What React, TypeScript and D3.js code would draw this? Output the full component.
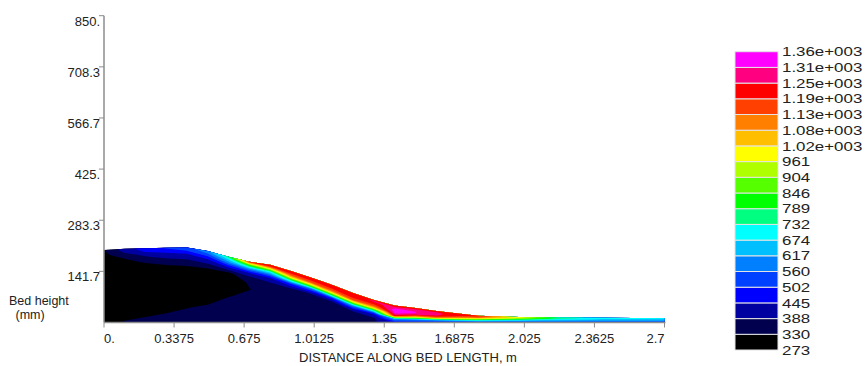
import { useMemo } from 'react';
import * as d3 from 'd3';

const WIDTH = 868;
const HEIGHT = 366;
const PLOT = { left: 104, right: 664.5, top: 15.7, bottom: 322.5 };
const FONT = 'Liberation Sans, Arial, sans-serif';

// stations along the bed (m) and bed surface height at each (mm)
const stationX = [0, 0.1, 0.2, 0.3, 0.4, 0.5, 0.6, 0.7, 0.8, 0.9, 1.0, 1.1, 1.2, 1.3, 1.4, 1.5, 1.6, 1.8, 2.0, 2.2, 2.4, 2.7];
const surfaceHeight = [201, 204, 206, 207, 208, 198, 182, 168, 160, 143, 124, 104, 82, 62, 47, 40, 32, 19, 15, 14, 13, 12];

// fraction of local bed height, bottom (0) -> surface (1)
const etaLevels = [0, 0.2, 0.4, 0.55, 0.65, 0.75, 0.82, 0.88, 0.92, 0.95, 0.975, 1.0];

// temperature (K) read per station, bottom -> surface
const temperature = [
  [300, 292, 285, 285, 288, 292, 298, 305, 312, 318, 322, 326],
  [335, 295, 285, 285, 290, 300, 315, 335, 365, 392, 408, 420],
  [345, 305, 285, 285, 290, 310, 338, 380, 410, 448, 462, 475],
  [350, 318, 290, 285, 292, 320, 355, 405, 430, 460, 490, 510],
  [360, 328, 295, 288, 298, 328, 370, 415, 450, 495, 520, 540],
  [365, 340, 300, 290, 300, 325, 385, 440, 490, 540, 575, 600],
  [380, 360, 328, 300, 295, 315, 415, 520, 600, 650, 705, 800],
  [370, 360, 345, 328, 336, 380, 448, 590, 740, 860, 1020, 1200],
  [370, 360, 350, 350, 365, 418, 548, 710, 920, 1100, 1192, 1230],
  [375, 365, 360, 365, 380, 505, 760, 1040, 1140, 1190, 1220, 1240],
  [380, 370, 365, 372, 392, 585, 904, 1120, 1175, 1205, 1220, 1230],
  [385, 378, 375, 385, 510, 870, 1095, 1180, 1205, 1220, 1230, 1240],
  [380, 375, 390, 575, 860, 1127, 1185, 1215, 1228, 1238, 1243, 1245],
  [375, 380, 470, 780, 1030, 1140, 1190, 1230, 1250, 1255, 1250, 1240],
  [450, 610, 1220, 1320, 1338, 1335, 1315, 1280, 1250, 1240, 1235, 1230],
  [460, 600, 1050, 1255, 1312, 1310, 1290, 1265, 1250, 1243, 1240, 1235],
  [470, 620, 1080, 1230, 1265, 1270, 1262, 1250, 1240, 1235, 1230, 1225],
  [480, 620, 820, 980, 1080, 1140, 1170, 1185, 1192, 1195, 1197, 1198],
  [500, 580, 680, 780, 860, 920, 950, 970, 980, 990, 995, 1000],
  [510, 580, 640, 680, 710, 735, 750, 760, 765, 768, 770, 772],
  [520, 560, 610, 640, 660, 675, 685, 692, 696, 698, 700, 702],
  [520, 550, 600, 630, 650, 665, 675, 682, 686, 688, 690, 692],
];

// contour levels and legend
const levels = [273, 330, 388, 445, 502, 560, 617, 674, 732, 789, 846, 904, 961, 1020, 1080, 1130, 1190, 1250, 1310, 1360];
const levelLabels = ['273', '330', '388', '445', '502', '560', '617', '674', '732', '789', '846', '904', '961',
  '1.02e+003', '1.08e+003', '1.13e+003', '1.19e+003', '1.25e+003', '1.31e+003', '1.36e+003'];
const bandColors = ['#000000', '#00004f', '#0000a0', '#0000ff', '#0040ff', '#0080ff', '#00bfff', '#00ffff', '#00ff80',
  '#00ff00', '#55ff00', '#b0ff00', '#ffff00', '#ffbf00', '#ff8000', '#ff4000', '#ff0000', '#ff0080', '#ff00ff'];

const xTicks = [0, 0.3375, 0.675, 1.0125, 1.35, 1.6875, 2.025, 2.3625, 2.7];
const xTickLabels = ['0.', '0.3375', '0.675', '1.0125', '1.35', '1.6875', '2.025', '2.3625', '2.7'];
const yTicks = [141.7, 283.3, 425, 566.7, 708.3, 850];
const yTickLabels = ['141.7', '283.3', '425.', '566.7', '708.3', '850.'];

const LEGEND = { x: 735, y: 51.7, w: 43, step: 15.7 };

const lerp = (arr: number[], s: number) => {
  const i = Math.min(Math.floor(s), arr.length - 2);
  return arr[i] + (arr[i + 1] - arr[i]) * (s - i);
};

export default function App() {
  const xScale = d3.scaleLinear().domain([0, 2.7]).range([PLOT.left, PLOT.right]);
  const yScale = d3.scaleLinear().domain([0, 850]).range([PLOT.bottom, PLOT.top]);

  const bands = useMemo(() => {
    const nx = stationX.length;
    const ny = etaLevels.length;
    const values = new Array(nx * ny);
    for (let j = 0; j < ny; j++) {
      for (let i = 0; i < nx; i++) values[j * nx + i] = temperature[i][j];
    }
    const contours = d3.contours().size([nx, ny]).thresholds(levels.slice(0, -1))(values);

    // grid coords -> bed coords -> screen
    const toScreen = (cx: number, cy: number) => {
      const sx = Math.max(0, Math.min(nx - 1, cx - 0.5));
      const sy = Math.max(0, Math.min(ny - 1, cy - 0.5));
      const x = lerp(stationX, sx);
      const h = lerp(etaLevels, sy) * lerp(surfaceHeight, sx);
      return [xScale(x), yScale(h)];
    };
    const path = d3.geoPath(
      d3.geoTransform({
        point(cx: number, cy: number) {
          const p = toScreen(cx, cy);
          (this as any).stream.point(p[0], p[1]);
        },
      })
    );
    return contours.map((c, k) => ({ d: path(c as any) || '', color: bandColors[k] }));
  }, []);

  return (
    <div style={{ position: 'absolute', left: 0, top: 0 }}>
      <svg width={WIDTH} height={HEIGHT} style={{ display: 'block', background: '#fff' }} fontFamily={FONT}>
        {/* temperature field */}
        <g>
          {bands.map((b, k) => (
            <path key={k} d={b.d} fill={b.color} />
          ))}
        </g>

        {/* axes */}
        <g stroke="#8c8c8c" strokeWidth={1.5}>
          <line x1={PLOT.left} x2={PLOT.left} y1={PLOT.top} y2={PLOT.bottom} />
          <line x1={PLOT.left} x2={PLOT.right + 1} y1={PLOT.bottom} y2={PLOT.bottom} />
          {yTicks.map((t) => (
            <line key={t} x1={PLOT.left - 5} x2={PLOT.left} y1={yScale(t)} y2={yScale(t)} strokeWidth={1} />
          ))}
          {xTicks.map((t) => (
            <line key={t} x1={xScale(t)} x2={xScale(t)} y1={PLOT.bottom} y2={PLOT.bottom + 5} strokeWidth={1} />
          ))}
        </g>
        <g fontSize={13} fill="#222">
          {yTicks.map((t, i) => (
            <text key={t} x={PLOT.left - 4} y={yScale(t) + 10} textAnchor="end">
              {yTickLabels[i]}
            </text>
          ))}
          {xTicks.map((t, i) => (
            <text
              key={t}
              x={xScale(t)}
              y={342.5}
              textAnchor={i === 0 ? 'start' : i === xTicks.length - 1 ? 'end' : 'middle'}
            >
              {xTickLabels[i]}
            </text>
          ))}
          <text x={408} y={362} textAnchor="middle">DISTANCE ALONG BED LENGTH, m</text>
          <text x={9} y={304.5} fontSize={12.5}>Bed height</text>
          <text x={15.5} y={319} fontSize={12.5}>(mm)</text>
        </g>

        {/* legend */}
        <g>
          {bandColors.map((c, i) => (
            <rect
              key={i}
              x={LEGEND.x}
              y={LEGEND.y + (bandColors.length - 1 - i) * LEGEND.step}
              width={LEGEND.w}
              height={LEGEND.step}
              fill={c}
              stroke="#e4e4e4"
              strokeWidth={1}
            />
          ))}
          {levelLabels.map((l, i) => (
            <text
              key={l}
              transform={`translate(782, ${LEGEND.y + (levelLabels.length - 1 - i) * LEGEND.step + 4.6}) scale(1.3, 1)`}
              fontSize={13}
              fill="#222"
            >
              {l}
            </text>
          ))}
        </g>
      </svg>
    </div>
  );
}
